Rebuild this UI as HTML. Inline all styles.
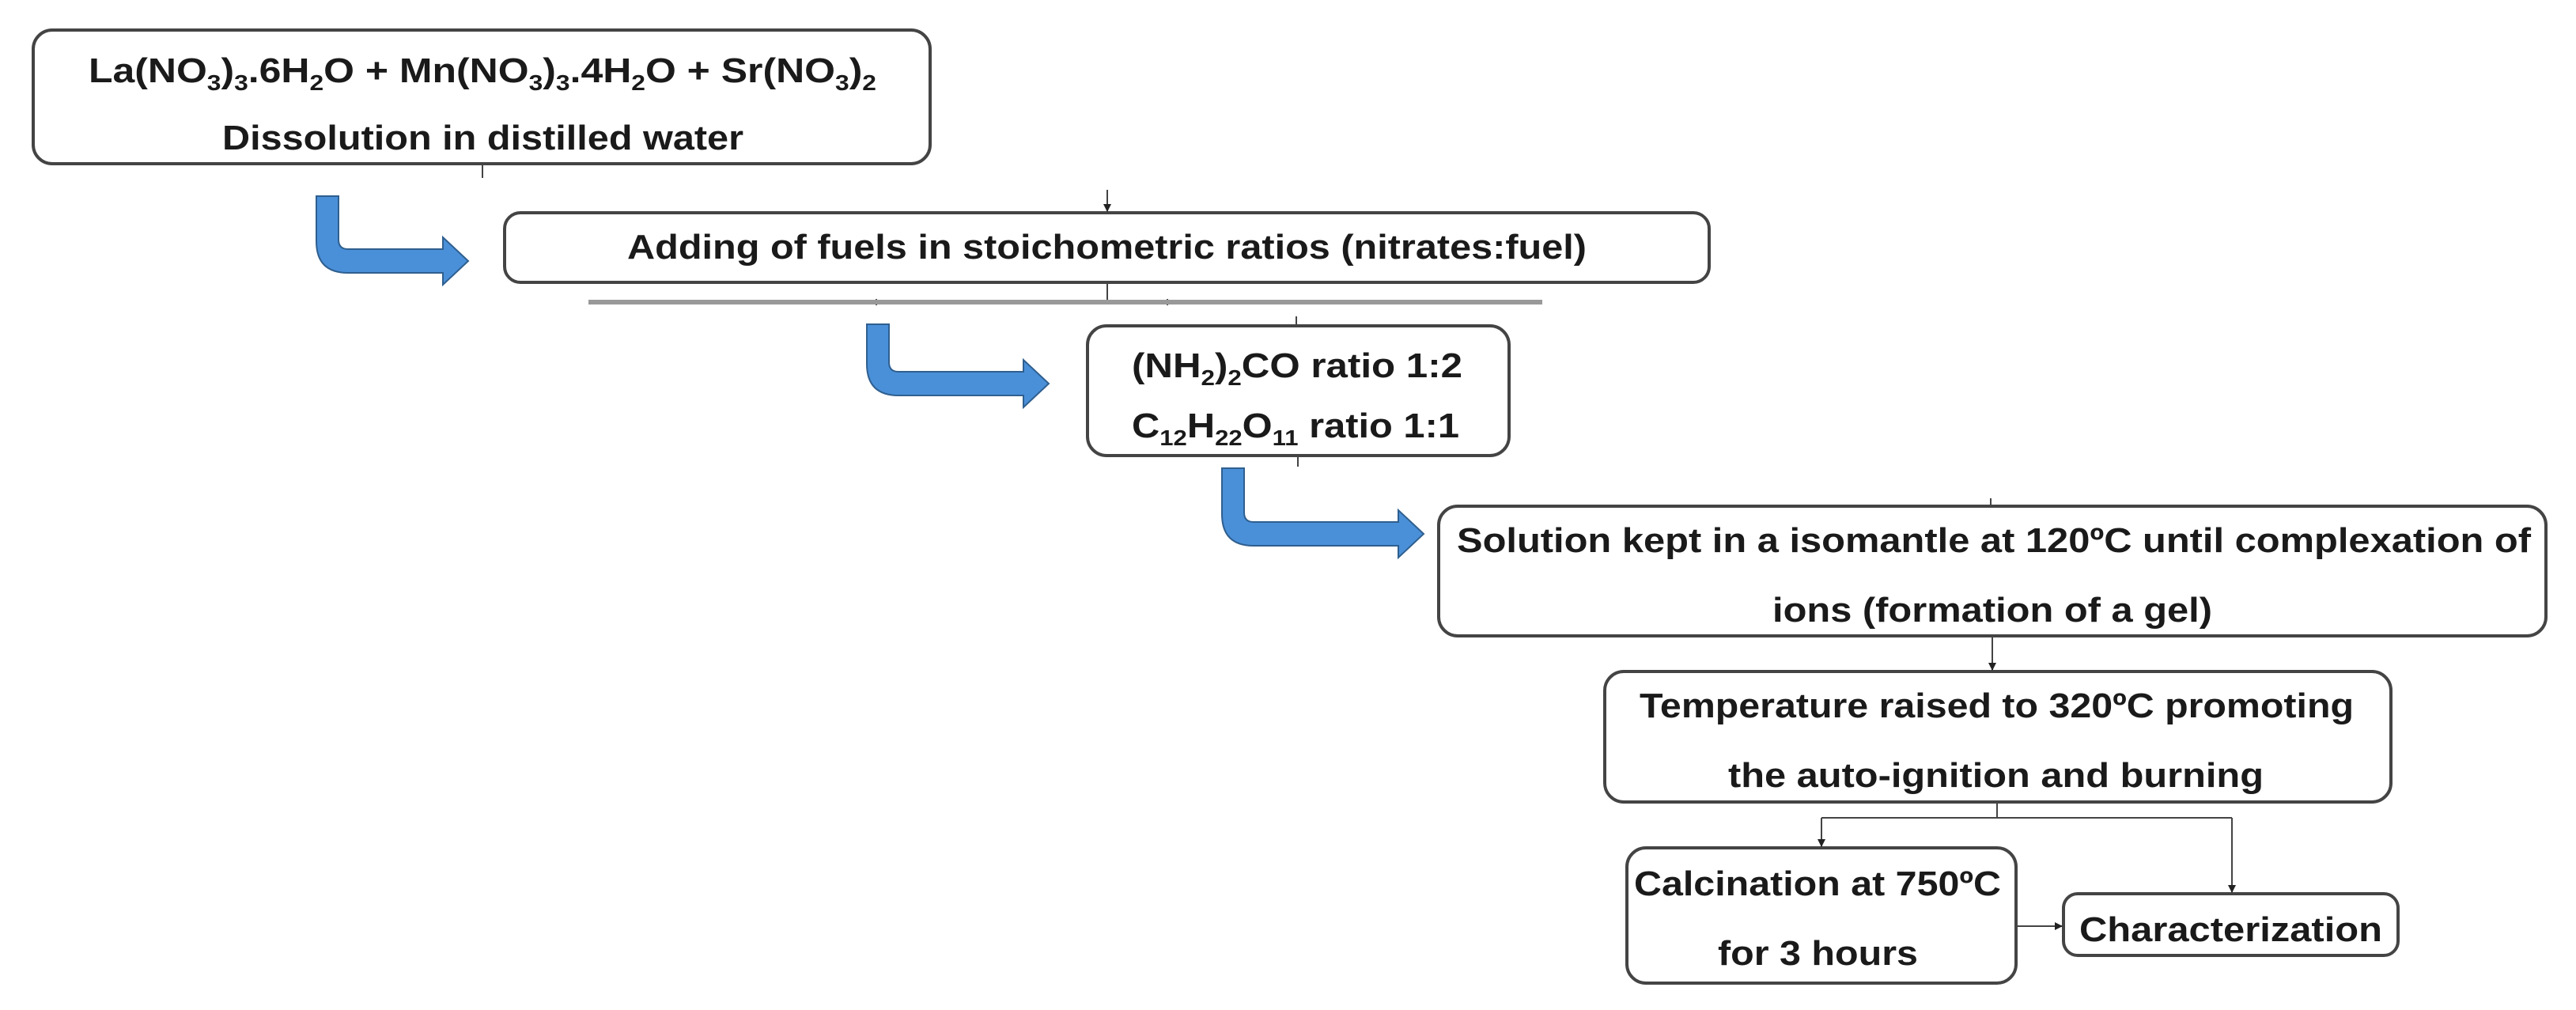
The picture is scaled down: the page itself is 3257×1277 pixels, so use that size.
<!DOCTYPE html>
<html><head><meta charset="utf-8"><style>
html,body{margin:0;padding:0;background:#fff;}
svg{display:block;}
text{font-family:"Liberation Sans",Arial,sans-serif;font-weight:bold;fill:#1a1a1a;}
</style></head><body>
<svg width="3257" height="1277" viewBox="0 0 3257 1277" xmlns="http://www.w3.org/2000/svg">
<defs>
<marker id="ah" markerWidth="10" markerHeight="10" refX="9" refY="5" orient="auto" markerUnits="userSpaceOnUse" viewBox="0 0 10 10">
<path d="M0,0 L10,5 L0,10 Z" fill="#222"/></marker>
</defs>
<g fill="#fff" stroke="#444" stroke-width="4">
<rect x="42" y="38" width="1134" height="169" rx="24"/>
<rect x="638" y="269" width="1523" height="88" rx="20"/>
<rect x="1375" y="412" width="533" height="164" rx="24"/>
<rect x="1819" y="640" width="1400" height="164" rx="24"/>
<rect x="2029" y="849" width="994" height="165" rx="24"/>
<rect x="2057" y="1072" width="492" height="171" rx="24"/>
<rect x="2609" y="1130" width="423" height="78" rx="18"/>
</g>
<g stroke="#444" stroke-width="2" fill="none">
<line x1="610" y1="207" x2="610" y2="225"/>
<line x1="1400" y1="240" x2="1400" y2="267" marker-end="url(#ah)"/>
<line x1="1400" y1="357" x2="1400" y2="381"/>
<line x1="1108" y1="378" x2="1108" y2="386"/>
<line x1="1476" y1="378" x2="1476" y2="386"/>
<line x1="1639" y1="400" x2="1639" y2="412"/>
<line x1="1641" y1="576" x2="1641" y2="590"/>
<line x1="2517" y1="630" x2="2517" y2="640"/>
<line x1="2519" y1="804" x2="2519" y2="847" marker-end="url(#ah)"/>
<polyline points="2525,1014 2525,1034"/>
<line x1="2303" y1="1034" x2="2822" y2="1034"/>
<line x1="2303" y1="1034" x2="2303" y2="1070" marker-end="url(#ah)"/>
<line x1="2822" y1="1034" x2="2822" y2="1128" marker-end="url(#ah)"/>
<line x1="2549" y1="1171" x2="2607" y2="1171" marker-end="url(#ah)"/>
</g>
<line x1="744" y1="382" x2="1950" y2="382" stroke="#999" stroke-width="6"/>
<g fill="#4a90d9" stroke="#2f5f8f" stroke-width="2">
<path d="M400,248 L428,248 L428,303 Q428,315 440,315 L560,315 L560,300 L592,330 L560,360 L560,345 L440,345 Q400,345 400,305 Z"/>
<path d="M1096,410 L1124,410 L1124,458 Q1124,470 1136,470 L1294,470 L1294,455 L1326,485 L1294,515 L1294,500 L1136,500 Q1096,500 1096,460 Z"/>
<path d="M1545,592 L1573,592 L1573,648 Q1573,660 1585,660 L1768,660 L1768,645 L1800,675 L1768,705 L1768,690 L1585,690 Q1545,690 1545,650 Z"/>
</g>
<g font-size="44">
<text x="112" y="104" textLength="996" lengthAdjust="spacingAndGlyphs">La(NO<tspan font-size="28" dy="10">3</tspan><tspan dy="-10">)</tspan><tspan font-size="28" dy="10">3</tspan><tspan dy="-10">.6H</tspan><tspan font-size="28" dy="10">2</tspan><tspan dy="-10">O + Mn(NO</tspan><tspan font-size="28" dy="10">3</tspan><tspan dy="-10">)</tspan><tspan font-size="28" dy="10">3</tspan><tspan dy="-10">.4H</tspan><tspan font-size="28" dy="10">2</tspan><tspan dy="-10">O +  Sr(NO</tspan><tspan font-size="28" dy="10">3</tspan><tspan dy="-10">)</tspan><tspan font-size="28" dy="10">2</tspan></text>
<text x="281" y="189" textLength="659" lengthAdjust="spacingAndGlyphs">Dissolution in distilled water</text>
<text x="793" y="327" textLength="1213" lengthAdjust="spacingAndGlyphs">Adding of fuels in stoichometric ratios (nitrates:fuel)</text>
<text x="1431" y="477" textLength="418" lengthAdjust="spacingAndGlyphs">(NH<tspan font-size="28" dy="10">2</tspan><tspan dy="-10">)</tspan><tspan font-size="28" dy="10">2</tspan><tspan dy="-10">CO ratio 1:2</tspan></text>
<text x="1431" y="553" textLength="414" lengthAdjust="spacingAndGlyphs">C<tspan font-size="28" dy="10">12</tspan><tspan dy="-10">H</tspan><tspan font-size="28" dy="10">22</tspan><tspan dy="-10">O</tspan><tspan font-size="28" dy="10">11</tspan><tspan dy="-10"> ratio 1:1</tspan></text>
<text x="1842" y="698" textLength="1358" lengthAdjust="spacingAndGlyphs">Solution kept in a isomantle at 120ºC until complexation of</text>
<text x="2241" y="786" textLength="556" lengthAdjust="spacingAndGlyphs">ions (formation of a gel)</text>
<text x="2073" y="907" textLength="903" lengthAdjust="spacingAndGlyphs">Temperature raised to 320ºC promoting</text>
<text x="2185" y="995" textLength="677" lengthAdjust="spacingAndGlyphs">the auto-ignition and burning</text>
<text x="2066" y="1132" textLength="464" lengthAdjust="spacingAndGlyphs">Calcination at 750ºC</text>
<text x="2172" y="1220" textLength="253" lengthAdjust="spacingAndGlyphs">for 3 hours</text>
<text x="2629" y="1190" textLength="383" lengthAdjust="spacingAndGlyphs">Characterization</text>
</g>
</svg>
</body></html>
